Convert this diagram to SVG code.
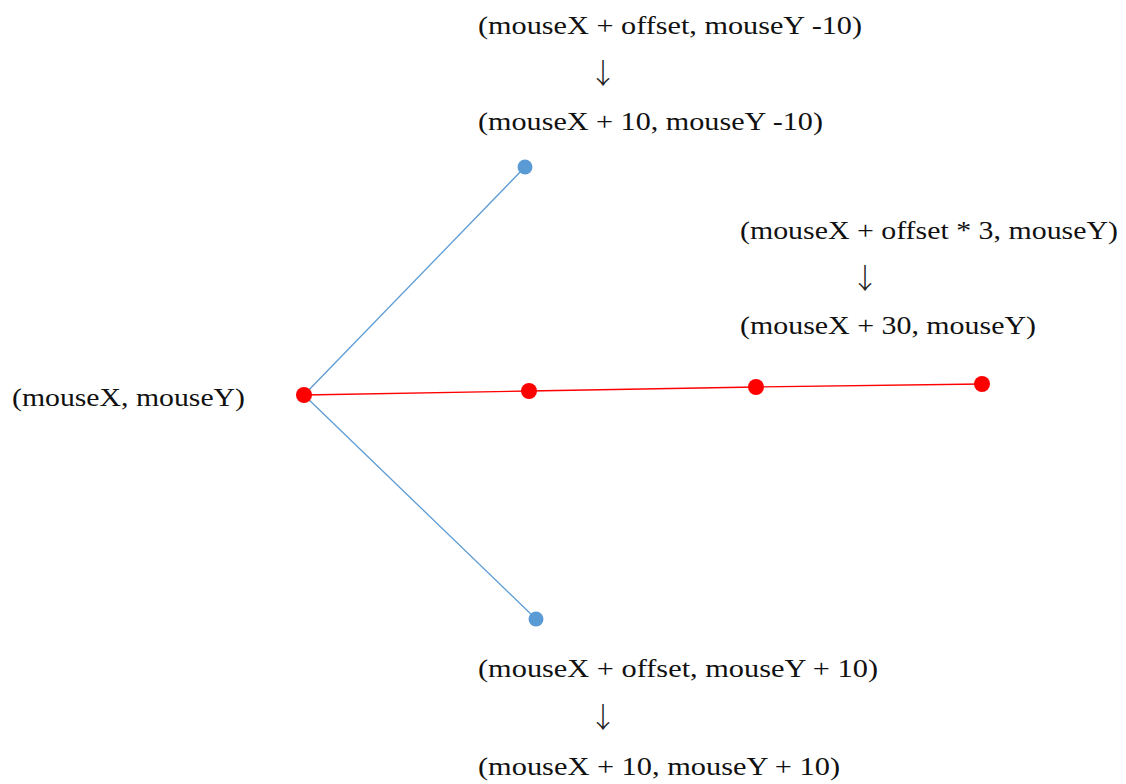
<svg xmlns="http://www.w3.org/2000/svg" width="1126" height="784" viewBox="0 0 1126 784">
<style>
.t{font-family:"Liberation Serif","Noto Serif CJK JP",serif;font-size:26px;fill:#111;}
.a{font-family:"Noto Sans CJK JP","DejaVu Sans",sans-serif;font-weight:300;font-size:28px;fill:#222;text-anchor:middle;}
.blue{stroke:#5B9BD5;stroke-width:1.3;fill:none;}
.red{stroke:#FF0000;stroke-width:1.3;fill:none;}
.rd{fill:#FF0000;}
.bd{fill:#5B9BD5;}
</style>
<rect width="1126" height="784" fill="#fff"/>
<g id="connectors">
<line class="blue" x1="304" y1="395" x2="525" y2="167"/>
<line class="blue" x1="304" y1="395" x2="536" y2="619"/>
<polyline class="red" points="304,395 529,391 756,387 982,384"/>
</g>
<g id="origin"><circle class="rd" cx="304" cy="395" r="8"/><text class="t" x="12" y="406" textLength="233" lengthAdjust="spacingAndGlyphs">(mouseX, mouseY)</text></g>
<g id="top-point"><circle class="bd" cx="525" cy="167" r="7.5"/>
<text class="t" x="478" y="34" textLength="384" lengthAdjust="spacingAndGlyphs">(mouseX + offset, mouseY -10)</text>
<text class="a" x="603" y="84">↓</text>
<text class="t" x="478" y="130" textLength="345" lengthAdjust="spacingAndGlyphs">(mouseX + 10, mouseY -10)</text></g>
<g id="bottom-point"><circle class="bd" cx="536" cy="619" r="7.5"/>
<text class="t" x="478" y="677" textLength="400" lengthAdjust="spacingAndGlyphs">(mouseX + offset, mouseY + 10)</text>
<text class="a" x="603" y="728">↓</text>
<text class="t" x="478" y="775" textLength="362" lengthAdjust="spacingAndGlyphs">(mouseX + 10, mouseY + 10)</text></g>
<g id="mid-point-1"><circle class="rd" cx="529" cy="391" r="8"/></g>
<g id="mid-point-2"><circle class="rd" cx="756" cy="387" r="8"/></g>
<g id="end-point"><circle class="rd" cx="982" cy="384" r="8"/>
<text class="t" x="740" y="239" textLength="378" lengthAdjust="spacingAndGlyphs">(mouseX + offset * 3, mouseY)</text>
<text class="a" x="865" y="289">↓</text>
<text class="t" x="740" y="334" textLength="296" lengthAdjust="spacingAndGlyphs">(mouseX + 30, mouseY)</text></g>
</svg>
